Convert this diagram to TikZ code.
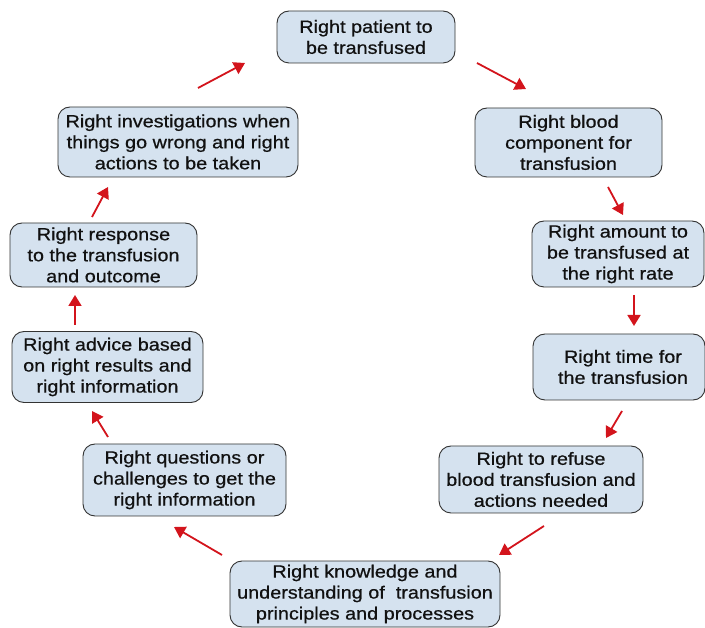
\documentclass[tikz,border=0pt]{standalone}
\usepackage{fontspec}
\setmainfont[FakeStretch=1.12,FakeBold=0.6]{Liberation Sans}
\usetikzlibrary{arrows.meta}
\definecolor{boxfill}{HTML}{D5E2EF}
\definecolor{boxline}{HTML}{333333}
\definecolor{arrred}{HTML}{D3141C}
\definecolor{txt}{HTML}{111111}
\tikzset{
  rbox/.style={draw=boxline, line width=0.9pt, fill=boxfill, rounded corners=12pt,
    align=center, inner sep=0pt, text=txt,
    font=\fontsize{17.7}{21}\selectfont},
  arr/.style={draw=arrred, line width=1.8pt,
    -{Triangle[length=11pt,width=13pt]}}
}
\begin{document}
\begin{tikzpicture}[x=1pt,y=-1pt]
\useasboundingbox (0,0) rectangle (705,628);
\node[rbox, minimum width=178pt, minimum height=52pt] (b1) at (366,37) {Right patient to\\be transfused};
\node[rbox, minimum width=187pt, minimum height=69pt] (b2) at (568.5,142.5) {Right blood\\component for\\transfusion};
\node[rbox, minimum width=172pt, minimum height=66pt] (b3) at (618,254) {Right amount to\\be transfused at\\the right rate};
\node[rbox, minimum width=172pt, minimum height=66pt] (b4) at (619,367) {\hspace*{8pt}Right time for\\\hspace*{8pt}the transfusion};
\node[rbox, minimum width=204pt, minimum height=67pt] (b5) at (541,479.5) {Right to refuse\\blood transfusion and\\actions needed};
\node[rbox, minimum width=270pt, minimum height=66pt] (b6) at (365,594) {Right knowledge and\\understanding of\ \ transfusion\\principles and processes};
\node[rbox, minimum width=203pt, minimum height=72pt] (b7) at (184.5,480) {Right questions or\\challenges to get the\\right information};
\node[rbox, minimum width=191pt, minimum height=71pt] (b8) at (107.5,367) {Right advice based\\on right results and\\right information};
\node[rbox, minimum width=187pt, minimum height=64pt] (b9) at (103.5,255) {Right response\\to the transfusion\\and outcome};
\node[rbox, minimum width=240pt, minimum height=70pt] (b10) at (178,142) {Right investigations when\\things go wrong and right\\actions to be taken};

\coordinate (a1s) at (198,88);  \coordinate (a1e) at (245,63);
\coordinate (a2s) at (477,63);  \coordinate (a2e) at (526,89);
\coordinate (a3s) at (608,187); \coordinate (a3e) at (623,215);
\coordinate (a4s) at (634,295); \coordinate (a4e) at (634,326);
\coordinate (a5s) at (622,411); \coordinate (a5e) at (606,438);
\coordinate (a6s) at (544,526); \coordinate (a6e) at (499,555);
\coordinate (a7s) at (222,555); \coordinate (a7e) at (174,527);
\coordinate (a8s) at (108,437); \coordinate (a8e) at (92,411);
\coordinate (a9s) at (75,325);  \coordinate (a9e) at (75,295);
\coordinate (a10s) at (92,217); \coordinate (a10e) at (108,187);

\foreach \i in {1,...,10} {\draw[arr] (a\i s) -- (a\i e);}
\end{tikzpicture}
\end{document}
